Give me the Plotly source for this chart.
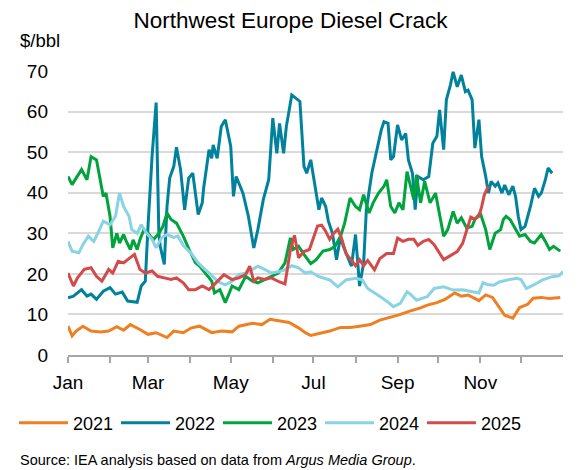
import plotly.graph_objects as go

# ---- data: day of year (0 = 1 Jan) and crack value in $/bbl ----
days_2021 = [0, 3, 6, 11, 17, 24, 30, 36, 41, 46, 53, 59, 65, 73, 78, 85, 91, 97, 106, 113, 121, 126,
             136, 143, 149, 158, 163, 170, 175, 179, 186, 193, 201, 208, 215, 223, 230, 237, 244, 252,
             260, 265, 272, 278, 285, 290, 295, 303, 308, 313, 317, 320, 322, 328, 333, 339, 343, 349,
             355, 363]
vals_2021 = [7.1, 4.7, 5.9, 7.1, 5.9, 5.7, 5.9, 7.0, 6.1, 7.5, 6.3, 5.1, 5.5, 4.3, 5.9, 5.5, 6.7, 7.1,
             5.5, 5.9, 5.7, 7.1, 7.8, 7.5, 8.8, 8.4, 8.0, 6.7, 5.5, 4.8, 5.4, 5.9, 6.8, 6.8, 7.1, 7.5,
             8.6, 9.2, 9.9, 10.8, 11.6, 12.3, 12.9, 13.7, 15.3, 14.5, 14.8, 13.4, 14.8, 14.2, 12.2, 11.0,
             9.8, 9.1, 11.7, 12.5, 14.0, 14.2, 13.9, 14.2]

days_2022 = [0, 4, 10, 14, 17, 21, 26, 31, 35, 40, 44, 51, 54, 57, 59, 62, 65, 67, 68, 71, 73, 75, 78,
             80, 83, 86, 89, 92, 96, 99, 100, 104, 106, 107, 110, 113, 116, 120, 122, 124, 129, 133, 137,
             140, 144, 148, 151, 154, 156, 159, 161, 165, 171, 174, 176, 179, 181, 185, 187, 190, 192,
             195, 198, 201, 203, 207, 209, 212, 215, 218, 220, 224, 228, 231, 233, 236, 238, 240, 243,
             246, 249, 251, 254, 256, 258, 262, 266, 269, 272, 274, 277, 279, 282, 284, 287, 290, 293,
             295, 298, 300, 303, 305, 308, 310, 312, 315, 317, 320, 322, 325, 328, 330, 332, 334, 337,
             341, 344, 347, 349, 352, 354, 357]
vals_2022 = [14.1, 14.5, 16.1, 14.5, 15.0, 13.7, 15.7, 16.6, 15.0, 15.5, 13.3, 13.0, 17.0, 18.2, 31.7,
             49.0, 62.2, 30.0, 26.8, 22.3, 36.6, 43.6, 46.5, 51.2, 45.7, 35.8, 43.6, 44.8, 34.6, 37.5,
             41.1, 50.6, 48.5, 51.8, 48.5, 56.3, 58.0, 51.4, 39.1, 44.0, 39.9, 34.2, 26.4, 30.9, 38.3,
             43.2, 58.4, 49.7, 57.1, 49.7, 56.3, 64.1, 62.5, 46.5, 44.8, 48.1, 44.0, 35.8, 38.7, 36.6,
             33.0, 30.0, 23.5, 29.3, 26.8, 23.5, 21.9, 29.7, 17.0, 22.7, 35.8, 44.8, 51.4, 55.5, 57.5,
             57.1, 48.1, 48.9, 56.7, 53.0, 54.6, 48.1, 44.8, 35.8, 44.0, 43.2, 44.0, 52.2, 53.9, 60.4,
             50.6, 62.9, 66.6, 69.8, 66.1, 69.0, 64.9, 65.3, 62.9, 51.0, 58.0, 48.9, 44.0, 39.9, 42.8,
             41.6, 42.4, 39.9, 41.9, 39.5, 41.6, 39.1, 34.2, 30.9, 31.7, 36.6, 41.1, 39.1, 39.9, 43.2,
             46.1, 44.8]

days_2023 = [0, 3, 6, 10, 14, 17, 21, 23, 26, 28, 31, 33, 36, 38, 41, 43, 46, 48, 51, 53, 56, 59, 63,
             67, 70, 73, 76, 80, 85, 90, 94, 97, 101, 106, 108, 112, 116, 121, 126, 131, 136, 140, 145,
             150, 155, 160, 164, 166, 170, 174, 179, 183, 188, 193, 197, 201, 204, 208, 212, 215, 218,
             222, 225, 229, 233, 235, 238, 241, 244, 247, 250, 252, 255, 257, 260, 263, 267, 271, 274,
             277, 280, 284, 287, 290, 294, 298, 300, 304, 308, 311, 315, 319, 321, 323, 326, 330, 333,
             337, 341, 344, 349, 352, 355, 358, 363]
vals_2023 = [44.0, 42.0, 43.6, 45.7, 43.2, 48.9, 48.1, 44.8, 39.1, 39.9, 34.2, 26.4, 30.0, 27.6, 29.7,
             28.0, 26.0, 28.4, 26.0, 28.4, 30.9, 30.0, 28.4, 30.0, 31.7, 35.0, 33.4, 32.5, 29.3, 25.5,
             22.7, 21.9, 20.2, 18.2, 15.3, 16.1, 12.9, 17.0, 16.1, 19.4, 18.2, 17.8, 18.6, 19.4, 20.2,
             22.7, 28.9, 26.0, 26.8, 24.8, 22.5, 23.5, 25.6, 26.0, 26.8, 29.3, 32.5, 38.7, 36.6, 35.8,
             39.5, 35.0, 37.5, 39.9, 41.6, 43.2, 36.6, 35.0, 37.5, 35.8, 45.2, 42.4, 38.3, 44.4, 37.5,
             42.8, 37.5, 39.9, 34.2, 29.3, 30.9, 35.4, 32.5, 33.8, 31.3, 31.7, 33.4, 35.0, 30.9, 26.0,
             30.0, 30.9, 33.4, 34.2, 33.4, 30.9, 29.3, 29.7, 28.0, 27.6, 29.7, 28.0, 26.0, 26.8, 25.6]

days_2024 = [0, 3, 8, 11, 15, 19, 22, 26, 31, 35, 38, 41, 45, 47, 51, 54, 58, 62, 65, 69, 73, 78, 81,
             85, 91, 96, 101, 106, 111, 116, 121, 126, 131, 136, 140, 145, 150, 155, 160, 165, 170, 175,
             179, 185, 193, 199, 205, 212, 217, 221, 227, 232, 236, 240, 245, 250, 253, 257, 265, 270,
             277, 284, 291, 299, 303, 306, 309, 314, 318, 324, 331, 334, 338, 343, 350, 357, 362, 365]
vals_2024 = [28.0, 25.6, 25.2, 27.2, 29.3, 28.0, 30.0, 33.0, 32.1, 34.2, 39.9, 36.6, 34.2, 30.9, 30.0,
             32.1, 30.0, 28.5, 26.4, 28.9, 29.7, 29.0, 29.3, 27.0, 25.0, 22.7, 21.1, 19.5, 18.0, 17.3,
             18.2, 19.8, 20.2, 21.1, 21.9, 21.1, 20.2, 20.5, 21.0, 22.0, 21.5, 20.2, 20.5, 19.3, 18.5,
             16.8, 18.5, 18.9, 18.5, 16.4, 15.2, 14.0, 13.0, 11.9, 12.7, 15.6, 14.8, 13.5, 14.4, 16.4,
             16.8, 16.0, 16.1, 15.6, 15.3, 17.8, 17.4, 17.2, 18.0, 18.5, 18.9, 18.6, 16.4, 17.2, 18.5,
             19.3, 19.5, 20.6]

days_2025 = [0, 4, 7, 12, 17, 21, 25, 30, 33, 37, 41, 44, 49, 53, 57, 62, 66, 71, 76, 80, 85, 89, 94,
             99, 104, 108, 115, 121, 126, 131, 134, 137, 140, 145, 150, 156, 160, 164, 167, 170, 174,
             178, 181, 184, 187, 190, 193, 196, 199, 202, 205, 209, 212, 215, 218, 221, 226, 230, 235,
             240, 243, 247, 251, 255, 258, 262, 266, 270, 273, 277, 282, 287, 291, 294, 297, 300, 303,
             305, 307, 310]
vals_2025 = [20.2, 17.0, 19.0, 21.1, 21.5, 19.4, 18.2, 21.1, 20.2, 23.1, 22.7, 23.5, 24.8, 21.1, 20.2,
             20.7, 19.4, 19.0, 18.6, 19.0, 17.8, 16.1, 16.1, 17.0, 16.1, 17.4, 19.8, 18.6, 19.0, 19.8,
             21.9, 18.2, 19.0, 18.6, 19.0, 18.0, 17.5, 26.0, 29.5, 24.0, 25.5, 26.0, 29.0, 31.8, 32.0,
             30.5, 28.5, 30.0, 31.0, 28.5, 25.0, 23.4, 22.0, 23.5, 22.0, 23.3, 21.0, 23.8, 25.0, 25.0,
             28.8, 28.0, 28.5, 28.5, 27.0, 28.0, 28.5, 27.2, 25.5, 23.5, 24.5, 25.5, 27.5, 30.5, 34.0,
             33.5, 34.2, 36.5, 39.5, 41.6]

series_names = ["2021", "2022", "2023", "2024", "2025"]
series_days = [days_2021, days_2022, days_2023, days_2024, days_2025]
series_vals = [vals_2021, vals_2022, vals_2023, vals_2024, vals_2025]
series_colors = ["#EE7F22", "#00829C", "#00A33C", "#8AD3E4", "#D34A4A"]

month_starts = [0, 31, 59, 90, 120, 151, 181, 212, 243, 273, 304, 334]
month_labels = ["Jan", "", "Mar", "", "May", "", "Jul", "", "Sep", "", "Nov", ""]
y_ticks = [0, 10, 20, 30, 40, 50, 60, 70]

FONT = "Liberation Sans, Arial, sans-serif"

fig = go.Figure()
for name, d, v, c in zip(series_names, series_days, series_vals, series_colors):
    fig.add_trace(go.Scatter(x=d, y=v, mode="lines", name=name,
                             line=dict(color=c, width=3)))

fig.update_layout(
    width=581, height=470,
    margin=dict(l=68, r=18, t=71, b=115, autoexpand=False),
    paper_bgcolor="white", plot_bgcolor="white",
    font=dict(family=FONT, color="#000000", size=19),
    title=dict(text="Northwest Europe Diesel Crack", font=dict(size=22.5, color="#000"),
               x=0.5, xref="container", xanchor="center",
               y=1 - 20 / 470, yref="container", yanchor="middle"),
    showlegend=True,
    legend=dict(orientation="h", xref="paper", yref="paper",
                x=(14 - 68) / 495, xanchor="left", y=(355 - 423) / 284, yanchor="middle",
                font=dict(size=18), itemwidth=49, entrywidth=38, entrywidthmode="pixels",
                tracegroupgap=0, bgcolor="rgba(0,0,0,0)"),
    xaxis=dict(range=[0, 365], tickmode="array", tickvals=month_starts, ticktext=month_labels,
               ticks="outside", ticklen=6, tickwidth=1.5, tickcolor="#A6A6A6",
               showline=True, linecolor="#A6A6A6", linewidth=2, ticklabelstandoff=3,
               showgrid=False, zeroline=False, tickfont=dict(size=19)),
    yaxis=dict(range=[0, 70], tickmode="array", tickvals=y_ticks,
               showgrid=True, gridcolor="#D9D9D9", gridwidth=1.5,
               zeroline=False, showline=False, ticks="", ticklabelstandoff=19,
               tickfont=dict(size=19)),
    annotations=[
        dict(text="$/bbl", xref="paper", yref="paper", x=(18 - 68) / 495, y=(355 - 40) / 284,
             xanchor="left", yanchor="middle", showarrow=False, font=dict(size=18.5)),
        dict(text="Source: IEA analysis based on data from <i>Argus Media Group</i>.",
             xref="paper", yref="paper", x=(18 - 68) / 495, y=(355 - 460) / 284,
             xanchor="left", yanchor="middle", showarrow=False, font=dict(size=14.5)),
    ],
)

fig.write_html("out.html", config={"displayModeBar": False},
               post_script="document.body.style.margin='0px';")
